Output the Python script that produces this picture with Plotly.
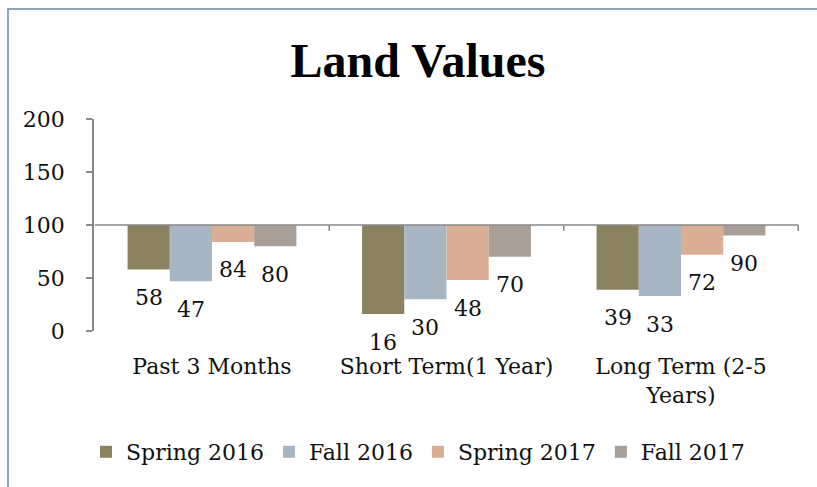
import plotly.graph_objects as go

categories = ["Past 3 Months", "Short Term(1 Year)", "Long Term (2-5<br>Years)"]
series_names = ["Spring 2016", "Fall 2016", "Spring 2017", "Fall 2017"]
spring_2016 = [58, 16, 39]
fall_2016 = [47, 30, 33]
spring_2017 = [84, 48, 72]
fall_2017 = [80, 70, 90]
y_ticks = [0, 50, 100, 150, 200]
baseline = 100

series_values = [spring_2016, fall_2016, spring_2017, fall_2017]
colors = ["#8B8360", "#A8B5C3", "#DBAF95", "#A79F98"]

BODY_FONT = "DejaVu Serif"
TITLE_FONT = "Liberation Serif"
AXIS_GRAY = "#898989"
TXT = "#111111"
BARGAP = 0.28
FS = 22

fig = go.Figure()
for name, vals, col in zip(series_names, series_values, colors):
    fig.add_trace(go.Bar(
        name=name,
        x=categories,
        y=[v - baseline for v in vals],
        base=baseline,
        marker=dict(color=col, line=dict(width=0)),
        hoverinfo="skip",
    ))

# value labels below each bar end
n = len(series_names)
w = (1 - BARGAP) / n
annotations = []
for k, vals in enumerate(series_values):
    for i, v in enumerate(vals):
        xc = i - (1 - BARGAP) / 2 + (k + 0.5) * w
        annotations.append(dict(
            x=xc, y=v, xref="x", yref="y", text=str(v), showarrow=False,
            yanchor="middle", yshift=-28,
            font=dict(family=BODY_FONT, size=FS, color=TXT),
        ))

shapes = [
    # outer frame
    dict(type="rect", xref="paper", yref="paper",
         x0=(8 - 94) / 705, x1=1.2, y0=-1.0, y1=(331 - 9) / 212,
         line=dict(color="#8FA5BD", width=2), fillcolor="rgba(0,0,0,0)", layer="below"),
    # horizontal axis line at baseline
    dict(type="line", xref="x", yref="y", x0=-0.5, x1=len(categories) - 0.5,
         y0=baseline, y1=baseline, line=dict(color=AXIS_GRAY, width=1.5)),
]
# category boundary tick marks on the baseline
for b in range(1, len(categories) + 1):
    shapes.append(dict(type="line", xref="x", yref="y", ysizemode="pixel",
                       yanchor=baseline, x0=b - 0.5, x1=b - 0.5, y0=0, y1=-6,
                       line=dict(color=AXIS_GRAY, width=1.5)))

fig.update_layout(
    width=817, height=487,
    margin=dict(l=94, r=18, t=119, b=156),
    paper_bgcolor="white", plot_bgcolor="white",
    barmode="group", bargap=BARGAP, bargroupgap=0,
    title=dict(text="<b>Land Values</b>", x=418 / 817, xanchor="center",
               y=1 - 60 / 487, yanchor="middle",
               font=dict(family=TITLE_FONT, size=48, color="black")),
    font=dict(family=BODY_FONT, size=FS, color=TXT),
    xaxis=dict(showline=False, ticks="", showgrid=False, zeroline=False,
               ticklabelstandoff=20,
               tickfont=dict(family=BODY_FONT, size=FS, color=TXT)),
    yaxis=dict(range=[0, 200], tickvals=y_ticks, ticks="outside", ticklen=6,
               tickcolor=AXIS_GRAY, tickwidth=1.5, showline=True, linecolor=AXIS_GRAY,
               linewidth=1.5, showgrid=False, zeroline=False, ticklabelstandoff=17,
               tickfont=dict(family=BODY_FONT, size=FS, color=TXT)),
    legend=dict(orientation="h", x=418 / 817, xref="container", xanchor="center",
                y=1 - 452 / 487, yref="container", yanchor="middle",
                font=dict(family=BODY_FONT, size=FS, color=TXT),
                itemwidth=30, traceorder="normal"),
    annotations=annotations,
    shapes=shapes,
    showlegend=True,
)

fig.write_html("out.html", config={"displayModeBar": False},
               post_script="document.body.style.margin='0';")
